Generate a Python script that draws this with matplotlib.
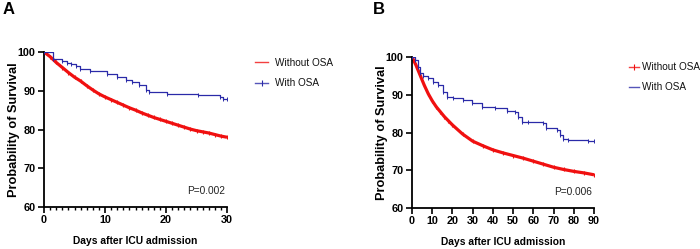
import matplotlib
matplotlib.use("Agg")
import matplotlib.pyplot as plt
from matplotlib.ticker import MultipleLocator
from matplotlib.lines import Line2D

plt.rcParams['font.family'] = ['Liberation Sans', 'DejaVu Sans']

# Panel A (30-day)
a_red_days = [0, 1, 2, 3, 4, 5, 6, 7, 8, 9, 10, 11, 12, 13, 14, 15, 16, 17, 18, 19, 20,
              21, 22, 23, 24, 25, 26, 27, 28, 29, 30]
a_red_surv = [100, 98.8, 97.3, 96.0, 94.7, 93.5, 92.5, 91.3, 90.2, 89.2, 88.4, 87.7, 87.0,
              86.3, 85.6, 85.0, 84.3, 83.7, 83.1, 82.6, 82.1, 81.6, 81.1, 80.6, 80.1, 79.7,
              79.4, 79.1, 78.7, 78.3, 78.0]
a_blue_days = [0, 1.5, 2.9, 3.7, 4.5, 5.3, 5.9, 7.5, 10.3, 11.9, 13.5, 14.5, 15.5, 16.8, 17.2,
               20.1, 25.3, 28.9, 29.4, 30]
a_blue_surv = [100, 98.2, 97.7, 97.1, 96.8, 96.3, 95.7, 95.2, 94.3, 93.5, 92.8, 92.3, 91.4,
               90.3, 89.6, 89.2, 88.8, 88.5, 87.9, 87.9]
a_xticks = [0, 10, 20, 30]

# Panel B (90-day)
b_red_days = [0, 2, 4, 6, 8, 10, 12, 14, 16, 18, 20, 25, 30, 35, 40, 45, 50, 55, 60, 65,
              70, 75, 80, 85, 90]
b_red_surv = [100, 97.8, 95.2, 92.6, 90.3, 88.4, 86.8, 85.5, 84.2, 83.1, 82.0, 79.6, 77.7,
              76.5, 75.4, 74.6, 73.9, 73.2, 72.4, 71.6, 70.8, 70.2, 69.7, 69.3, 68.8]
b_blue_days = [0, 1.5, 3.1, 3.9, 5.6, 8.1, 10.5, 13.0, 15.5, 17.2, 20.4, 25.4, 29.5, 34.5,
               41.0, 46.8, 51.0, 52.6, 54.2, 57.5, 64.9, 66.5, 71.6, 73.2, 74.8, 77.3,
               87.2, 90]
b_blue_surv = [100, 99.2, 97.4, 95.7, 95.0, 94.4, 93.5, 92.6, 90.8, 89.5, 89.1, 88.6, 87.7,
               86.7, 86.4, 85.7, 85.5, 84.2, 82.9, 82.7, 82.4, 81.1, 80.7, 79.3, 78.2, 78.0,
               77.8, 77.8]
b_xticks = [0, 10, 20, 30, 40, 50, 60, 70, 80, 90]

yticks = [60, 70, 80, 90, 100]
labels = ["Without OSA", "With OSA"]
p_values = ["P=0.002", "P=0.006"]
RED = "#f01010"
BLUE = "#2a2aa8"

W, H = 700, 249
fig = plt.figure(figsize=(W / 100, H / 100), dpi=100)


def px(x, y):
    return x / W, 1 - y / H


def panel(rect, red_d, red_s, blue_d, blue_s, xticks, minor, ptxt, letter, letter_xy,
          ylab_x, leg, red_marker, blue_marker):
    ax = fig.add_axes(rect)
    ax.plot(red_d, red_s, color=RED, lw=2.3, solid_capstyle='butt',
            marker='|', markersize=3, markeredgewidth=0.8, zorder=2)
    ax.step(blue_d, blue_s, where='post', color=BLUE, lw=0.9,
            marker='|', markersize=3, markeredgewidth=0.7, zorder=3)
    ax.set_xlim(xticks[0], xticks[-1])
    ax.set_ylim(yticks[0], yticks[-1])
    ax.set_xticks(xticks, labels=[str(v) for v in xticks], fontweight='bold', fontsize=7.8)
    ax.set_yticks(yticks, labels=[str(v) for v in yticks], fontweight='bold', fontsize=7.8)
    if minor:
        ax.xaxis.set_minor_locator(MultipleLocator(minor))
    for s in ['top', 'right']:
        ax.spines[s].set_visible(False)
    for s in ['left', 'bottom']:
        ax.spines[s].set_linewidth(1.3)
    ax.tick_params(axis='both', which='major', length=4, width=1.2, direction='out', pad=2)
    ax.tick_params(axis='x', which='minor', length=2.5, width=1.0)
    ax.set_xlabel("Days after ICU admission", fontsize=7.4, fontweight='bold', labelpad=8)
    ax.set_ylabel("Probability of Survival", fontsize=9.2, fontweight='bold')
    ax.yaxis.set_label_coords(ylab_x, 0.5)
    ax.text(0.99, 0.105, ptxt, transform=ax.transAxes, ha='right', va='center',
            fontsize=7.3, color='#222222')
    fig.text(*px(*letter_xy), letter, fontsize=12, fontweight='bold', ha='left', va='center')
    # legend drawn in figure pixels
    (hx0, hx1, tx, rows) = leg
    for lab, col, mk, ry in zip(labels, [RED, BLUE], [red_marker, blue_marker], rows):
        x0, y0 = px(hx0, ry)
        x1, _ = px(hx1, ry)
        fig.add_artist(Line2D([x0, x1], [y0, y0], transform=fig.transFigure,
                              color=col, lw=1.0, alpha=0.8))
        if mk:
            xm, _ = px((hx0 + hx1) / 2, ry)
            fig.add_artist(Line2D([xm], [y0], transform=fig.transFigure, color=col,
                                  marker='|', markersize=4, markeredgewidth=0.8, lw=0))
        fig.text(*px(tx, ry), lab, fontsize=7.2, ha='left', va='center', color='#111111')
    return ax


panel([44 / W, 1 - 207 / H, 183 / W, 155 / H], a_red_days, a_red_surv, a_blue_days,
      a_blue_surv, a_xticks, 1, p_values[0], "A", (3, 9), -0.132,
      (255, 268, 275, (62.5, 83.0)), False, True)
panel([412 / W, 1 - 208 / H, 182 / W, 151 / H], b_red_days, b_red_surv, b_blue_days,
      b_blue_surv, b_xticks, None, p_values[1], "B", (373, 9), -0.13,
      (629, 639, 642, (67.0, 87.5)), True, False)

fig.savefig("out.png", dpi=100)
